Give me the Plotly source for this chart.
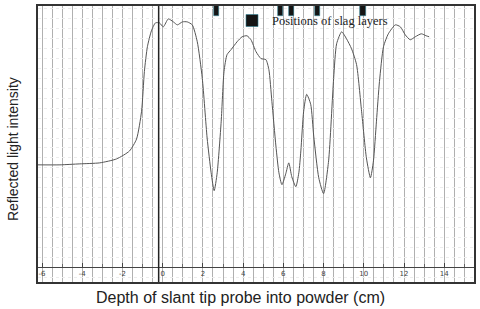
import plotly.graph_objects as go

# Depth of probe (cm) and reflected light intensity (arbitrary units)
depth_cm = [-6.20, -5.11, -4.12, -3.13, -2.29, -1.65, -1.30, -1.05, -0.91, -0.76,
            -0.56, -0.36, -0.16, 0.03, 0.28, 0.53, 0.73, 0.98, 1.22, 1.47,
            1.72, 1.97, 2.21, 2.41, 2.56, 2.71, 2.91, 3.05, 3.20, 3.40,
            3.70, 3.95, 4.19, 4.39, 4.64, 4.89, 5.13, 5.28, 5.43, 5.63,
            5.78, 5.93, 6.12, 6.27, 6.42, 6.62, 6.77, 6.87, 7.01, 7.16,
            7.36, 7.51, 7.76, 8.00, 8.25, 8.50, 8.65, 8.90, 9.14, 9.39,
            9.64, 9.89, 10.13, 10.33, 10.48, 10.63, 10.78, 10.98, 11.22, 11.57,
            11.82, 12.06, 12.31, 12.56, 12.86, 13.10, 13.25]
intensity = [103, 103, 104, 105, 109, 117, 129, 157, 197, 222,
             238, 246, 246, 242, 250, 247, 244, 247, 247, 244,
             227, 190, 130, 95, 77, 95, 147, 197, 214, 219,
             227, 232, 233, 229, 217, 210, 209, 199, 167, 122,
             95, 83, 94, 105, 91, 81, 95, 117, 157, 174,
             164, 132, 90, 74, 107, 190, 225, 237, 230, 220,
             204, 157, 110, 90, 107, 147, 187, 222, 235, 244,
             242, 234, 229, 232, 235, 233, 232]

# Slag layer positions (cm) marked at the top of the chart
slag_cm = [2.66, 5.88, 6.40, 7.71, 9.96]
slag_base = [253, 253, 253, 253, 253]
slag_len = [12, 12, 12, 12, 12]

tick_vals = [-6, -4, -2, 0, 2, 4, 6, 8, 10, 12, 14]
tick_text = ["-6", "-4", "-2", "0", "2", "4", "6", "8", "10", "12", "14"]

x_range = [-6.2, 15.48]
y_range = [-15, 263]
probe_zero_line = -0.2

fig = go.Figure()
fig.add_trace(go.Scatter(
    x=depth_cm, y=intensity, mode="lines",
    line=dict(color="#555555", width=1, shape="spline", smoothing=0.6),
    showlegend=False, hoverinfo="skip"))
fig.add_trace(go.Bar(
    x=slag_cm, y=slag_len, base=slag_base, width=0.25, xaxis="x2",
    marker=dict(color="#151515", line=dict(color="#2e7f92", width=0.6)),
    name="Positions of slag layers", showlegend=True))

fig.add_shape(type="line", xref="x", yref="paper", x0=probe_zero_line,
              x1=probe_zero_line, y0=0, y1=1,
              line=dict(color="#222222", width=1.5))

fig.update_layout(
    width=480, height=309,
    margin=dict(l=38, r=4, t=4, b=27),
    paper_bgcolor="white", plot_bgcolor="white",
    font=dict(family="Liberation Sans", color="#222222"),
    xaxis=dict(range=x_range, showline=True, mirror=True, linecolor="#333333",
               linewidth=1.5, showticklabels=False, ticks="",
               showgrid=True, gridcolor="#b0b0b0", gridwidth=1, dtick=0.5,
               zeroline=False),
    xaxis2=dict(range=x_range, overlaying="x", anchor="free", position=0.054,
                matches="x", showline=True, linecolor="#444444", linewidth=1,
                showgrid=False, zeroline=False, ticks="inside", ticklen=4,
                tickcolor="#444444", tickvals=tick_vals, ticktext=tick_text,
                tickfont=dict(size=7, color="#444444", family="DejaVu Sans"),
                minor=dict(ticks="inside", ticklen=3, dtick=1, tickcolor="#666666")),
    yaxis=dict(range=y_range, showline=True, mirror=True, linecolor="#333333",
               linewidth=1.5, showticklabels=False, ticks="", zeroline=False,
               showgrid=True, gridcolor="#ececec", griddash="dot", dtick=10),
    legend=dict(x=0.445, y=0.946, xanchor="left", yanchor="middle",
                bgcolor="rgba(0,0,0,0)",
                font=dict(family="Liberation Serif", size=12.5, color="#222222")),
    bargap=0,
    annotations=[
        dict(text="Depth of slant tip probe into powder (cm)", xref="paper", yref="paper",
             x=0.4646, y=-0.057, xanchor="center", yanchor="middle", showarrow=False,
             font=dict(family="Liberation Sans", size=16, color="#222222")),
        dict(text="Reflected light intensity", xref="paper", yref="paper",
             x=-0.057, y=0.482, xanchor="center", yanchor="middle", showarrow=False,
             textangle=-90,
             font=dict(family="Liberation Sans", size=14, color="#222222")),
    ],
)

fig.write_html("out.html", config={"displayModeBar": False},
               post_script="document.body.style.margin='0';document.body.style.padding='0';")
